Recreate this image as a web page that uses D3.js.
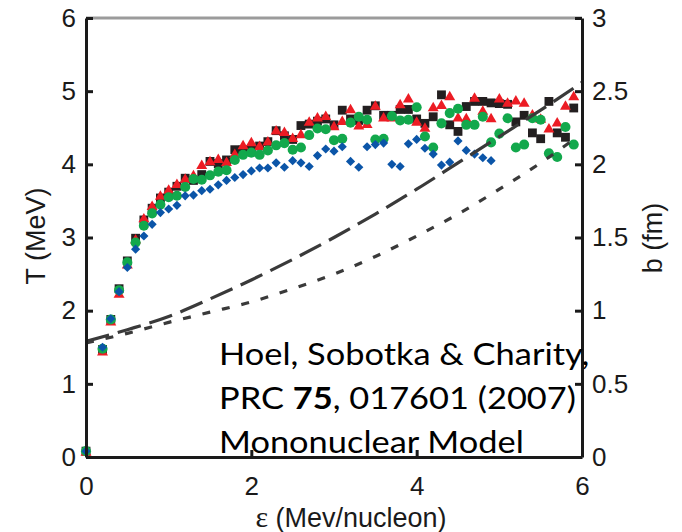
<!DOCTYPE html>
<html>
<head>
<meta charset="utf-8">
<script src="https://cdn.jsdelivr.net/npm/d3@7"></script>
<style>
  html, body { margin: 0; padding: 0; background: #fff; }
  svg { display: block; }
  .tick text { font-family: "Liberation Sans", Arial, sans-serif; font-size: 26px; fill: #1a1a1a; }
  .axis-label { font-family: "Liberation Sans", Arial, sans-serif; font-size: 27px; fill: #1a1a1a; }
  .ref { font-family: Lato, "Open Sans", sans-serif; font-size: 31px; fill: #000; }
</style>
</head>
<body>
<svg id="chart" width="682" height="532"></svg>
<script>
// Excitation energy per nucleon (MeV/nucleon)
const epsilon = [0, 0.2, 0.3, 0.4, 0.5, 0.6, 0.7, 0.8, 0.9, 1.0,
  1.1, 1.2, 1.3, 1.4, 1.5, 1.6, 1.7, 1.8, 1.9, 2.0,
  2.1, 2.2, 2.3, 2.4, 2.5, 2.6, 2.7, 2.8, 2.9, 3.0,
  3.1, 3.2, 3.3, 3.4, 3.5, 3.6, 3.7, 3.8, 3.9, 4.0,
  4.1, 4.2, 4.3, 4.4, 4.5, 4.6, 4.7, 4.8, 4.9, 5.0,
  5.1, 5.2, 5.3, 5.4, 5.5, 5.6, 5.7, 5.8, 5.9];

// Temperature T (MeV) for the four systems
const tSquares = [0.08, 1.47, 1.88, 2.30, 2.68, 2.99, 3.24, 3.40, 3.54, 3.62,
  3.70, 3.81, 3.78, 3.86, 4.04, 4.01, 4.06, 4.20, 4.20, 4.20,
  4.25, 4.31, 4.46, 4.39, 4.34, 4.53, 4.55, 4.59, 4.62, 4.54,
  4.74, 4.62, 4.60, 4.74, 4.80, 4.67, 4.67, 4.75, 4.75, 4.62,
  4.56, 4.65, 4.95, 4.54, 4.45, 4.79, 4.86, 4.86, 4.84, 4.83,
  4.82, 4.58, 4.67, 4.43, 4.35, 4.86, 4.43, 4.37, 4.77];

const tTriangles = [0.06, 1.43, 1.84, 2.22, 2.62, 2.96, 3.25, 3.42, 3.56, 3.64,
  3.72, 3.79, 3.84, 3.98, 4.03, 4.06, 4.02, 4.13, 4.25, 4.29,
  4.24, 4.30, 4.45, 4.43, 4.35, 4.40, 4.57, 4.63, 4.65, 4.51,
  4.58, 4.74, 4.52, 4.54, 4.79, 4.63, 4.63, 4.81, 4.89, 4.57,
  4.49, 4.77, 4.80, 4.92, 4.63, 4.62, 4.90, 4.72, 4.62, 4.89,
  4.83, 4.86, 4.83, 4.67, 4.61, 4.48, 4.56, 4.79, 4.92];

const tCircles = [0.08, 1.48, 1.88, 2.28, 2.66, 2.93, 3.16, 3.33, 3.45, 3.55,
  3.57, 3.69, 3.80, 3.79, 3.85, 3.90, 3.92, 4.06, 4.13, 4.16,
  4.13, 4.19, 4.26, 4.29, 4.20, 4.23, 4.40, 4.49, 4.48, 4.33,
  4.35, 4.57, 4.65, 4.61, 4.34, 4.35, 4.66, 4.60, 4.61, 4.78,
  4.38, 4.23, 4.56, 4.70, 4.76, 4.54, 4.54, 4.65, 4.30, 4.42,
  4.63, 4.23, 4.27, 4.63, 4.61, 4.15, 4.10, 4.51, 4.27];

const tDiamonds = [0.08, 1.50, 1.89, 2.26, 2.59, 2.84, 3.02, 3.18, 3.34, 3.39,
  3.44, 3.57, 3.58, 3.64, 3.66, 3.72, 3.78, 3.82, 3.86, 3.91,
  3.95, 3.95, 4.02, 3.96, 4.05, 4.02, 3.97, 4.12, 4.21, 4.18,
  4.24, 4.04, 3.96, 4.24, 4.27, 4.29, 4.00, 3.97, 4.28, 4.34,
  4.22, 4.14, 3.99, 4.03, 4.32, 4.19, 4.14, 4.09, 4.05, null,
  null, null, null, null, null, null, null, null, null];

// Model curves for the radius parameter b (fm), right-hand scale
const longDashEps = [0, 0.5, 1.0, 1.5, 2.0, 2.5, 3.0, 3.5, 4.0, 4.5, 5.0, 5.5, 6.0];
const longDashB   = [0.79, 0.87, 0.96, 1.08, 1.21, 1.35, 1.50, 1.66, 1.83, 2.01, 2.19, 2.37, 2.56];
const dottedEps   = [0, 0.5, 1.0, 1.5, 2.0, 2.5, 3.0, 3.5, 4.0, 4.5, 5.0, 5.5, 5.9];
const dottedB     = [0.78, 0.845, 0.92, 0.99, 1.06, 1.15, 1.25, 1.37, 1.51, 1.66, 1.83, 2.01, 2.17];

const tTicks = [0, 1, 2, 3, 4, 5, 6];
const bTicks = [0, 0.5, 1, 1.5, 2, 2.5, 3];
const epsTicks = [0, 2, 4, 6];

const refLines = ["Hoel, Sobotka & Charity,", "PRC ", "75", ", 017601 (2007)", "Mononuclear Model"];

const svg = d3.select("#chart");
const plotL = 86, plotR = 582, plotT = 18, plotB = 457;

const x = d3.scaleLinear().domain([0, 6]).range([plotL, plotR]);
const yT = d3.scaleLinear().domain([0, 6]).range([plotB, plotT]);
const yB = d3.scaleLinear().domain([0, 3]).range([plotB, plotT]);

// top frame line (grey)
svg.append("line")
  .attr("x1", plotL).attr("x2", plotR).attr("y1", plotT).attr("y2", plotT)
  .attr("stroke", "#9b9b9b").attr("stroke-width", 3);

// Data markers
const pts = (vals) => epsilon.map((e, i) => ({ e, v: vals[i] })).filter(d => d.v != null);

const series = [
  { vals: tSquares, shape: d3.symbolSquare, size: 78, fill: "#231f20", rot: 0 },
  { vals: tTriangles, shape: d3.symbolTriangle, size: 52, fill: "#ec1c24", rot: 0 },
  { vals: tCircles, shape: d3.symbolCircle, size: 80, fill: "#12a84c", rot: 0 },
  { vals: tDiamonds, shape: d3.symbolSquare, size: 42, fill: "#0b55a8", rot: 45 }
];

series.forEach(s => {
  svg.append("g").selectAll("path")
    .data(pts(s.vals))
    .join("path")
    .attr("d", d3.symbol().type(s.shape).size(s.size))
    .attr("transform", d => `translate(${x(d.e)},${yT(d.v)}) rotate(${s.rot})`)
    .attr("fill", s.fill);
});

// Model curves on b axis
const curve = d3.line().x(d => x(d[0])).y(d => yB(d[1])).curve(d3.curveMonotoneX);
svg.append("path")
  .attr("d", curve(d3.zip(longDashEps, longDashB)))
  .attr("fill", "none").attr("stroke", "#3a3a3a").attr("stroke-width", 3.2)
  .attr("stroke-dasharray", "24 9");
svg.append("path")
  .attr("d", curve(d3.zip(dottedEps, dottedB)))
  .attr("fill", "none").attr("stroke", "#3a3a3a").attr("stroke-width", 3.2)
  .attr("stroke-dasharray", "8 12");

// Axes with inward ticks
function styleAxis(g) {
  g.select(".domain").attr("stroke", "#1a1a1a").attr("stroke-width", 3);
  g.selectAll(".tick line").attr("stroke", "#1a1a1a").attr("stroke-width", 3);
}
svg.append("g").attr("transform", `translate(${plotL},0)`)
  .call(d3.axisLeft(yT).tickValues(tTicks).tickFormat(d3.format("d")).tickSizeInner(-7).tickSizeOuter(0).tickPadding(10))
  .call(styleAxis);
svg.append("g").attr("transform", `translate(${plotR},0)`)
  .call(d3.axisRight(yB).tickValues(bTicks).tickFormat(d3.format("~g")).tickSizeInner(-7).tickSizeOuter(0).tickPadding(10))
  .call(styleAxis);
svg.append("g").attr("transform", `translate(0,${plotB})`)
  .call(d3.axisBottom(x).tickValues(epsTicks).tickFormat(d3.format("d")).tickSizeInner(-7).tickSizeOuter(0).tickPadding(20))
  .call(styleAxis);
svg.selectAll("g[font-size]").attr("font-size", null).attr("font-family", null);

// Axis titles
svg.append("text").attr("class", "axis-label")
  .attr("transform", "translate(45,236) rotate(-90)")
  .attr("text-anchor", "middle").text("T (MeV)");
svg.append("text").attr("class", "axis-label")
  .attr("transform", "translate(662,238) rotate(-90)")
  .attr("text-anchor", "middle").text("b (fm)");
const xl = svg.append("text").attr("class", "axis-label")
  .attr("x", 351).attr("y", 527).attr("text-anchor", "middle");
xl.append("tspan").attr("font-family", "'Liberation Serif', 'DejaVu Serif', serif").attr("font-size", 30).text("ε");
xl.append("tspan").text(" (Mev/nucleon)");

// Reference text block (slightly widened face)
const ref = svg.append("g").attr("transform", "translate(219,0) scale(1.11,1)");
ref.append("text").attr("class", "ref").attr("x", 0).attr("y", 365).text(refLines[0]);
const l2 = ref.append("text").attr("class", "ref").attr("x", 0).attr("y", 409);
l2.append("tspan").text(refLines[1]);
l2.append("tspan").attr("font-weight", "bold").text(refLines[2]);
l2.append("tspan").text(refLines[3]);
ref.append("text").attr("class", "ref").attr("x", 0).attr("y", 453).text(refLines[4]);
</script>
</body>
</html>
